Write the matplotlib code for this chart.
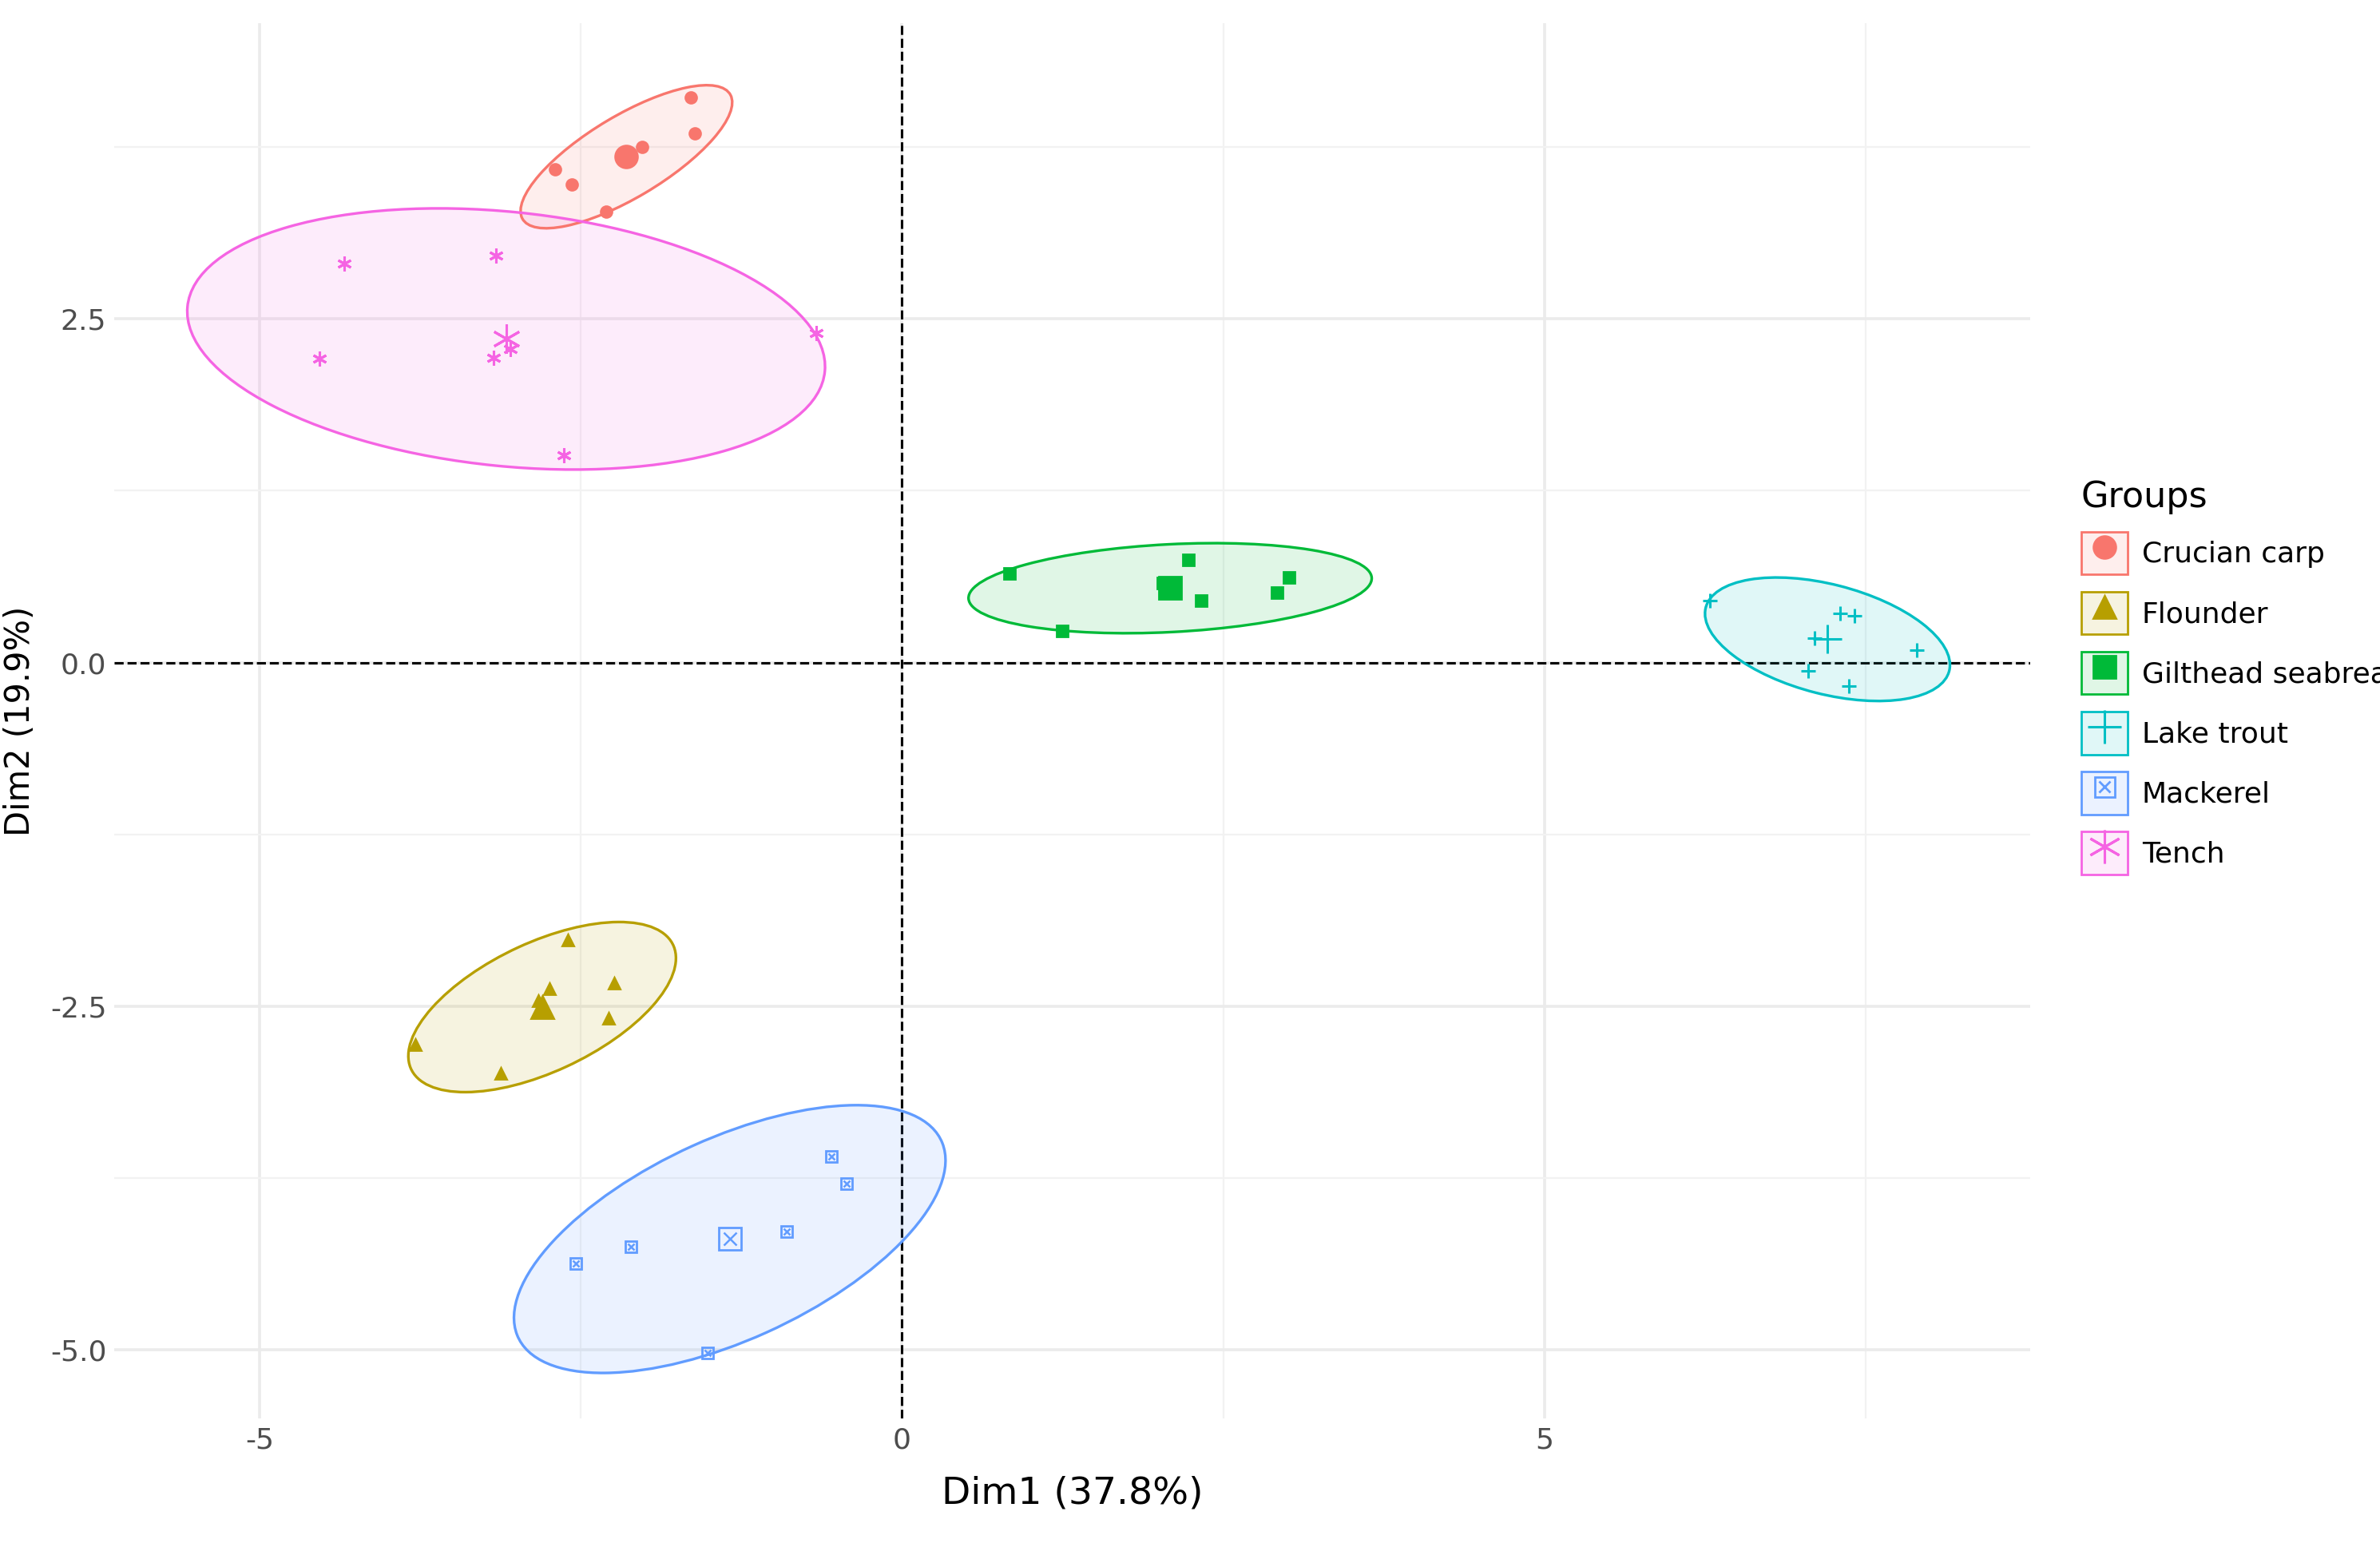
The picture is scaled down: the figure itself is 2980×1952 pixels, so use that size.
import matplotlib.pyplot as plt
import numpy as np
from matplotlib.patches import Ellipse, Patch
from matplotlib.lines import Line2D

plt.rcParams['font.family'] = ['Liberation Sans Narrow', 'DejaVu Sans Condensed', 'DejaVu Sans']
plt.rcParams['axes.unicode_minus'] = False

groups = ['Crucian carp', 'Flounder', 'Gilthead seabream', 'Lake trout', 'Mackerel', 'Tench']
colors = ['#F8766D', '#B79F00', '#00BA38', '#00BFC4', '#619CFF', '#F564E3']
markers = ['o', '^', 's', '+', 'box', (6, 2, 0)]

dim1 = {
    'Crucian carp': [-2.70, -2.57, -2.30, -2.02, -1.64, -1.61, -2.17],
    'Flounder': [-3.79, -3.12, -2.60, -2.74, -2.24, -2.28, -2.83],
    'Gilthead seabream': [0.84, 2.23, 1.25, 2.33, 2.92, 3.01, 2.03],
    'Lake trout': [6.29, 7.05, 7.30, 7.41, 7.37, 7.90, 7.10],
    'Mackerel': [-2.54, -2.11, -1.51, -0.90, -0.55, -0.43],
    'Tench': [-4.34, -3.16, -4.53, -3.18, -0.67, -2.63, -3.05],
}
dim2 = {
    'Crucian carp': [3.59, 3.48, 3.28, 3.75, 4.11, 3.85, 3.70],
    'Flounder': [-2.78, -2.99, -2.02, -2.37, -2.33, -2.59, -2.46],
    'Gilthead seabream': [0.65, 0.75, 0.23, 0.45, 0.51, 0.62, 0.58],
    'Lake trout': [0.45, -0.06, 0.36, 0.34, -0.17, 0.09, 0.18],
    'Mackerel': [-4.37, -4.25, -5.02, -4.14, -3.59, -3.79],
    'Tench': [2.90, 2.96, 2.21, 2.22, 2.40, 1.51, 2.28],
}

fig = plt.figure(figsize=(14.9, 9.76), dpi=200)
ax = fig.add_axes([0.048, 0.09, 0.805, 0.895])
ax.set_xlim(-6.13, 8.78)
ax.set_ylim(-5.5, 4.65)
for s in ax.spines.values():
    s.set_visible(False)
ax.set_xticks([-5, 0, 5])
ax.set_yticks([-5, -2.5, 0, 2.5])
ax.set_yticklabels(['-5.0', '-2.5', '0.0', '2.5'])
ax.set_xticks([-2.5, 2.5, 7.5], minor=True)
ax.set_yticks([-3.75, -1.25, 1.25, 3.75], minor=True)
ax.grid(True, which='major', color='#EBEBEB', lw=1.3)
ax.grid(True, which='minor', color='#F2F2F2', lw=0.8)
ax.tick_params(which='both', length=0, labelsize=13, colors='#4D4D4D')
ax.set_axisbelow(True)
ax.axhline(0, color='black', ls='--', lw=1.1)
ax.axvline(0, color='black', ls='--', lw=1.1)


def draw_marker(x, y, c, m, size):
    if m == 'box':
        ax.plot(x, y, ls='none', marker='s', mfc='none', mec=c, ms=size, mew=1.0, zorder=4)
        ax.plot(x, y, ls='none', marker='x', color=c, ms=size * 0.6, mew=0.9, zorder=4)
    elif m in ('+', (6, 2, 0)):
        ax.plot(x, y, ls='none', marker=m, color=c, ms=size * 1.3, mew=1.1, zorder=4)
    else:
        ax.plot(x, y, ls='none', marker=m, color=c, ms=size, zorder=4)


for g, c, m in zip(groups, colors, markers):
    x = np.array(dim1[g])
    y = np.array(dim2[g])
    cov = np.cov(x, y)
    vals, vecs = np.linalg.eigh(cov)
    ang = np.degrees(np.arctan2(vecs[1, 1], vecs[0, 1]))
    k = 1.95
    w, h = 2 * k * np.sqrt(vals[1]), 2 * k * np.sqrt(vals[0])
    ax.add_patch(Ellipse((x.mean(), y.mean()), w, h, angle=ang, facecolor=c, alpha=0.12, zorder=2))
    ax.add_patch(Ellipse((x.mean(), y.mean()), w, h, angle=ang, facecolor='none', edgecolor=c, lw=1.2, zorder=3))
    draw_marker(x, y, c, m, 5)
    draw_marker([x.mean()], [y.mean()], c, m, 10)

ax.set_xlabel('Dim1 (37.8%)', fontsize=17, labelpad=10)
ax.set_ylabel('Dim2 (19.9%)', fontsize=15, family='DejaVu Sans', labelpad=6)

handles = []
for c, m in zip(colors, markers):
    box = Patch(facecolor=c + '1F', edgecolor=c, lw=1.0)
    if m == 'box':
        h = (box, Line2D([], [], ls='none', marker='s', mfc='none', mec=c, ms=9),
             Line2D([], [], ls='none', marker='x', color=c, ms=5))
    elif m in ('+', (6, 2, 0)):
        h = (box, Line2D([], [], ls='none', marker=m, color=c, ms=15, mew=1.1))
    else:
        h = (box, Line2D([], [], ls='none', marker=m, color=c, ms=10))
    handles.append(h)
leg = fig.legend(handles, groups, title='Groups', loc='upper left', bbox_to_anchor=(0.866, 0.705),
                 frameon=False, fontsize=13, title_fontsize=16, handlelength=1.6, handleheight=1.9,
                 labelspacing=0.6, handletextpad=0.5, borderpad=0.2)
leg._legend_box.align = 'left'

fig.savefig('out.png')
